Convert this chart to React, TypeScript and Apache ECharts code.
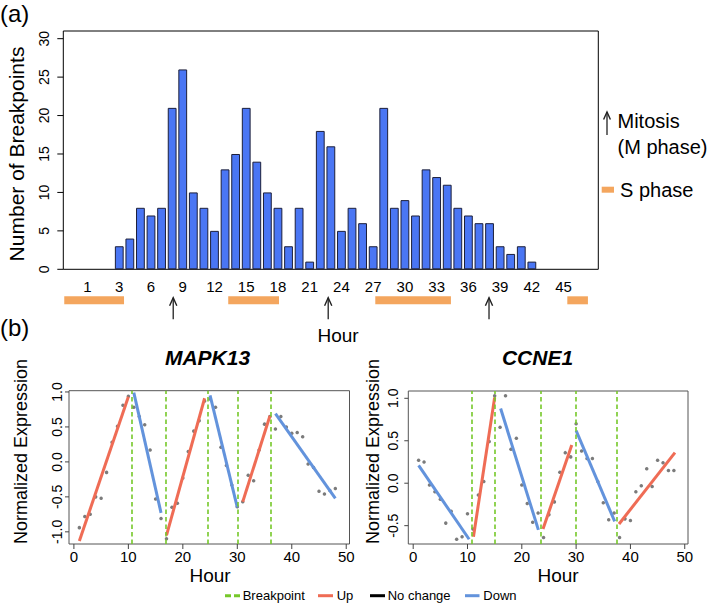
import React, { useEffect, useRef } from "react";
import * as echarts from "echarts";

// ---------- (a) breakpoint histogram ----------
const hours = [0, 1, 2, 3, 4, 5, 6, 7, 8, 9, 10, 11, 12, 13, 14, 15, 16, 17, 18, 19, 20, 21, 22, 23, 24, 25, 26, 27, 28, 29, 30, 31, 32, 33, 34, 35, 36, 37, 38, 39, 40, 41, 42, 43, 44, 45, 46, 47];
const breakpointCounts = [0, 0, 0, 3, 4, 8, 7, 8, 21, 26, 10, 8, 5, 13, 15, 21, 14, 10, 8, 3, 8, 1, 18, 16, 5, 8, 6, 3, 21, 8, 9, 7, 13, 12, 11, 8, 7, 6, 6, 3, 2, 3, 1, 0, 0, 0, 0, 0];
const hourTickValues = [0, 3, 6, 9, 12, 15, 18, 21, 24, 27, 30, 33, 36, 39, 42, 45];
const hourTickLabels = ["1", "3", "6", "9", "12", "15", "18", "21", "24", "27", "30", "33", "36", "39", "42", "45"];
const countTicks = [0, 5, 10, 15, 20, 25, 30];
const sPhaseRanges = [[-2.2, 3.45], [13.3, 18.1], [27.2, 34.35], [45.35, 47.3]];
const mitosisHours = [8.1, 22.75, 37.95];

// ---------- (b) expression profiles ----------
const sampleHours = [1, 2, 3, 4, 5, 6, 7, 8, 9, 10, 11, 12, 13, 14, 15, 16, 17, 18, 19, 20, 21, 22, 23, 24, 25, 26, 27, 28, 29, 30, 31, 32, 33, 34, 35, 36, 37, 38, 39, 40, 41, 42, 43, 44, 45, 46, 47, 48];
const mapk13Expr = [-0.94, -0.78, -0.75, -0.5, -0.52, -0.15, 0.28, 0.51, 0.81, 0.94, 0.78, 0.65, 0.53, 0.17, -0.53, -0.81, -1.1, -0.65, -0.59, -0.23, 0.15, 0.44, 0.59, 0.87, 0.9, 0.78, 0.21, -0.05, -0.33, -0.64, -0.57, -0.19, -0.27, 0.17, 0.54, 0.65, 0.47, 0.65, 0.5, 0.41, 0.42, 0.36, -0.03, -0.08, -0.42, -0.46, -0.41, -0.38];
const ccne1Expr = [0.27, 0.25, -0.02, -0.1, -0.19, -0.47, -0.33, -0.66, -0.63, -0.36, -0.54, -0.14, 0.02, 0.49, 1.03, 0.66, 1.03, 0.4, 0.53, -0.02, -0.24, -0.46, -0.35, -0.64, -0.37, -0.22, 0.13, 0.36, 0.31, 0.7, 0.38, 0.29, 0.29, 0.02, -0.23, -0.43, -0.35, -0.64, -0.42, -0.44, -0.1, -0.03, 0.17, -0.04, 0.27, 0.24, 0.15, 0.15];
const mapk13Breaks = [10.7, 16.9, 24.5, 30.1, 36.2];
const ccne1Breaks = [10.8, 15.1, 23.5, 30.0, 37.5];
// segments: [startHour, startValue, endHour, endValue]
const mapk13Up = [[1, -1.13, 10, 0.93], [17, -1.05, 24, 0.91], [31, -0.57, 36, 0.66]];
const mapk13Down = [[11, 0.99, 16, -0.73], [25, 0.95, 30, -0.65], [37, 0.69, 48, -0.52]];
const ccne1Up = [[11.1, -0.63, 15, 1.01], [23.9, -0.54, 29.2, 0.45], [37.9, -0.48, 48.2, 0.36]];
const ccne1Down = [[1, 0.21, 10.3, -0.66], [16.1, 0.88, 23.05, -0.55], [30, 0.62, 37.1, -0.45]];
const panelHourTicks = [0, 10, 20, 30, 40, 50];
const mapk13YTicks = [-1, -0.5, 0, 0.5, 1];
const ccne1YTicks = [-0.5, 0, 0.5, 1];

// axis ranges
const TOP_X = [-2.29, 48.28];
const TOP_Y = [0, 31];
const PANEL_X = [-0.9, 50.6];
const MAPK_Y = [-1.174, 1.018];
const CCNE_Y = [-0.716, 1.086];

const FONT = "'Liberation Sans', Arial, Helvetica, sans-serif";
const BAR_BLUE = "#4A76F4";
const ORANGE = "#F4A65E";
const UP_RED = "#EF6C55";
const DOWN_BLUE = "#6393DC";
const BP_GREEN = "#76C82A";
const POINT_GRAY = "#5a5a5a";
const PANEL_LINE = "#555";

function segSeries(segs: number[][], color: string, axisIdx: number) {
  return segs.map((s) => ({
    type: "line",
    xAxisIndex: axisIdx,
    yAxisIndex: axisIdx,
    data: [[s[0], s[1]], [s[2], s[3]]],
    showSymbol: false,
    symbol: "none",
    lineStyle: { color, width: 3 },
    z: 4,
    silent: true,
  }));
}

// tick marks drawn through the axes' own scales
function tickSeries(axisIdx: number, values: number[], dir: "x" | "y", other: number, len: number, color: string) {
  return {
    type: "custom",
    xAxisIndex: axisIdx,
    yAxisIndex: axisIdx,
    clip: false,
    silent: true,
    z: 5,
    data: values.map((v) => (dir === "y" ? [other, v] : [v, other])),
    encode: { x: 0, y: 1 },
    renderItem: (_p: any, api: any) => {
      const p = api.coord([api.value(0), api.value(1)]);
      const shape =
        dir === "y"
          ? { x1: p[0] - len, y1: p[1], x2: p[0], y2: p[1] }
          : { x1: p[0], y1: p[1], x2: p[0], y2: p[1] + len };
      return { type: "line", shape, style: { stroke: color, lineWidth: 1 } };
    },
  };
}

function valueAxis(idx: number, range: number[], labelValues: number[], labelOpts: any) {
  return {
    type: "value",
    gridIndex: idx,
    min: range[0],
    max: range[1],
    axisLine: { show: false, onZero: false },
    axisTick: { show: false },
    splitLine: { show: false },
    axisLabel: { customValues: labelValues, color: "#000", fontFamily: FONT, ...labelOpts },
  };
}

function txt(text: string, x: number, y: number, size: number, extra: any = {}, rot = 0, align = "center") {
  return {
    type: "text",
    x,
    y,
    rotation: rot,
    silent: true,
    style: { text, fontSize: size, fontFamily: FONT, fill: "#000", align, verticalAlign: "middle", ...extra },
  };
}

export default function App() {
  const ref = useRef<HTMLDivElement>(null);
  useEffect(() => {
    if (!ref.current) return;
    const chart = echarts.init(ref.current, undefined, { renderer: "svg" });

    const barData = hours
      .map((h, i) => [h, breakpointCounts[i]])
      .filter((d) => d[1] > 0);

    const fmt1 = (v: number) => v.toFixed(1);
    const legendY = 595.7;
    const option: any = {
      animation: false,
      textStyle: { fontFamily: FONT },
      grid: [
        { left: 63.3, top: 31, width: 535, height: 238.3, show: true, borderColor: "#000", borderWidth: 1, backgroundColor: "transparent" },
        { left: 69, top: 390.7, width: 280.5, height: 153.3, show: true, borderColor: PANEL_LINE, borderWidth: 1, backgroundColor: "transparent" },
        { left: 408.3, top: 391, width: 279.7, height: 153, show: true, borderColor: PANEL_LINE, borderWidth: 1, backgroundColor: "transparent" },
      ],
      xAxis: [
        valueAxis(0, TOP_X, hourTickValues, {
          fontSize: 15,
          lineHeight: 15,
          margin: 10,
          formatter: (v: number) => hourTickLabels[hourTickValues.indexOf(v)] ?? String(v),
        }),
        valueAxis(1, PANEL_X, panelHourTicks, { fontSize: 15, lineHeight: 15, margin: 5 }),
        valueAxis(2, PANEL_X, panelHourTicks, { fontSize: 15, lineHeight: 15, margin: 5 }),
      ],
      yAxis: [
        valueAxis(0, TOP_Y, countTicks, { rotate: 90, fontSize: 14, lineHeight: 14, margin: 12 }),
        valueAxis(1, MAPK_Y, mapk13YTicks, { rotate: 90, fontSize: 14, lineHeight: 14, margin: 5, formatter: fmt1 }),
        valueAxis(2, CCNE_Y, ccne1YTicks, { rotate: 90, fontSize: 14, lineHeight: 14, margin: 8, formatter: fmt1 }),
      ],
      series: [
        {
          type: "bar",
          xAxisIndex: 0,
          yAxisIndex: 0,
          data: barData,
          barWidth: 8.8,
          itemStyle: { color: BAR_BLUE, borderColor: "#1c1f3a", borderWidth: 1 },
          silent: true,
        },
        tickSeries(0, countTicks, "y", TOP_X[0], 6, "#000"),
        {
          type: "custom",
          xAxisIndex: 0,
          yAxisIndex: 0,
          clip: false,
          silent: true,
          data: sPhaseRanges.map((r) => [r[0], r[1], 0]),
          encode: { x: [0, 1], y: 2 },
          renderItem: (_p: any, api: any) => {
            const p0 = api.coord([api.value(0), 0]);
            const p1 = api.coord([api.value(1), 0]);
            return {
              type: "rect",
              shape: { x: p0[0], y: p0[1] + 27, width: p1[0] - p0[0], height: 8 },
              style: { fill: ORANGE },
            };
          },
        },
        {
          type: "custom",
          xAxisIndex: 0,
          yAxisIndex: 0,
          clip: false,
          silent: true,
          data: mitosisHours.map((h) => [h, 0]),
          encode: { x: 0, y: 1 },
          renderItem: (_p: any, api: any) => {
            const p = api.coord([api.value(0), 0]);
            const x = p[0];
            const tip = p[1] + 28.5;
            const end = p[1] + 50;
            return {
              type: "group",
              children: [
                { type: "line", shape: { x1: x, y1: tip, x2: x, y2: end }, style: { stroke: "#222", lineWidth: 1.3 } },
                {
                  type: "polyline",
                  shape: { points: [[x - 3.6, tip + 8], [x, tip], [x + 3.6, tip + 8]] },
                  style: { stroke: "#222", lineWidth: 1.4, fill: "none" },
                },
              ],
            };
          },
        },
        // MAPK13 panel
        {
          type: "scatter",
          xAxisIndex: 1,
          yAxisIndex: 1,
          data: sampleHours.map((h, i) => [h, mapk13Expr[i]]),
          symbolSize: 3.5,
          itemStyle: { color: POINT_GRAY },
          silent: true,
          z: 2,
          markLine: {
            silent: true,
            symbol: ["none", "none"],
            label: { show: false },
            lineStyle: { color: BP_GREEN, type: [4.5, 3], width: 1.6 },
            data: mapk13Breaks.map((b) => ({ xAxis: b })),
          },
        },
        ...segSeries(mapk13Up, UP_RED, 1),
        ...segSeries(mapk13Down, DOWN_BLUE, 1),
        tickSeries(1, panelHourTicks, "x", MAPK_Y[0], 5, "#444"),
        tickSeries(1, mapk13YTicks, "y", PANEL_X[0], 4, "#444"),
        // CCNE1 panel
        {
          type: "scatter",
          xAxisIndex: 2,
          yAxisIndex: 2,
          data: sampleHours.map((h, i) => [h, ccne1Expr[i]]),
          symbolSize: 3.5,
          itemStyle: { color: POINT_GRAY },
          silent: true,
          z: 2,
          markLine: {
            silent: true,
            symbol: ["none", "none"],
            label: { show: false },
            lineStyle: { color: BP_GREEN, type: [4.5, 3], width: 1.6 },
            data: ccne1Breaks.map((b) => ({ xAxis: b })),
          },
        },
        ...segSeries(ccne1Up, UP_RED, 2),
        ...segSeries(ccne1Down, DOWN_BLUE, 2),
        tickSeries(2, panelHourTicks, "x", CCNE_Y[0], 5, "#444"),
        tickSeries(2, ccne1YTicks, "y", PANEL_X[0], 4, "#444"),
      ],
      graphic: [
        txt("(a)", 0, 13, 24, {}, 0, "left"),
        txt("(b)", 0, 327, 24, {}, 0, "left"),
        txt("Number of Breakpoints", 16, 154, 21, {}, Math.PI / 2),
        txt("Hour", 338, 335, 19),
        // mitosis / S phase key
        { type: "line", silent: true, shape: { x1: 607, y1: 112, x2: 607, y2: 135 }, style: { stroke: "#222", lineWidth: 1.3 } },
        { type: "polyline", silent: true, shape: { points: [[603.6, 119.5], [607, 112], [610.4, 119.5]] }, style: { stroke: "#222", lineWidth: 1.4, fill: "none" } },
        txt("Mitosis", 617.5, 121, 20, {}, 0, "left"),
        txt("(M phase)", 617.5, 147, 20, {}, 0, "left"),
        { type: "rect", silent: true, shape: { x: 601.7, y: 186.7, width: 12.3, height: 6 }, style: { fill: ORANGE } },
        txt("S phase", 620, 189.5, 20, {}, 0, "left"),
        // panel (b) titles
        txt("MAPK13", 207.5, 357, 21, { fontWeight: "bold", fontStyle: "italic" }),
        txt("CCNE1", 537.5, 357, 21, { fontWeight: "bold", fontStyle: "italic" }),
        txt("Normalized Expression", 21, 451.5, 18, {}, Math.PI / 2),
        txt("Normalized Expression", 373, 451.5, 18, {}, Math.PI / 2),
        txt("Hour", 210, 575, 19),
        txt("Hour", 558, 575, 19),
        // bottom legend
        { type: "line", silent: true, shape: { x1: 225, y1: legendY, x2: 240, y2: legendY }, style: { stroke: BP_GREEN, lineWidth: 3, lineDash: [6, 3] } },
        txt("Breakpoint", 242.7, legendY, 13, {}, 0, "left"),
        { type: "line", silent: true, shape: { x1: 318, y1: legendY, x2: 333, y2: legendY }, style: { stroke: UP_RED, lineWidth: 3 } },
        txt("Up", 336.7, legendY, 13, {}, 0, "left"),
        { type: "line", silent: true, shape: { x1: 370, y1: legendY, x2: 385, y2: legendY }, style: { stroke: "#000", lineWidth: 3 } },
        txt("No change", 387.7, legendY, 13, {}, 0, "left"),
        { type: "line", silent: true, shape: { x1: 465, y1: legendY, x2: 479.5, y2: legendY }, style: { stroke: DOWN_BLUE, lineWidth: 3 } },
        txt("Down", 483.3, legendY, 13, {}, 0, "left"),
      ],
    };
    chart.setOption(option);
    return () => chart.dispose();
  }, []);
  return <div ref={ref} style={{ position: "absolute", left: 0, top: 0, width: 709, height: 603, background: "#fff" }} />;
}
